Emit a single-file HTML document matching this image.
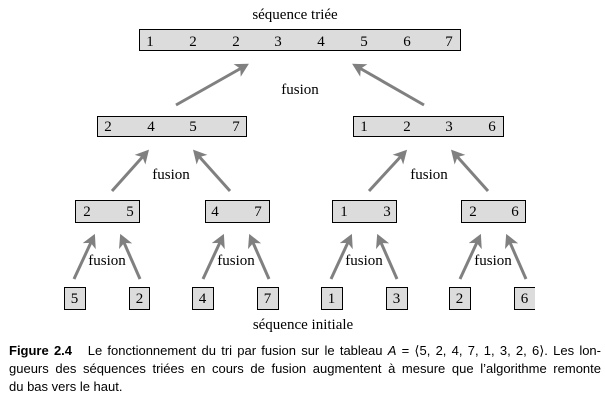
<!DOCTYPE html>
<html><head><meta charset="utf-8"><style>
body{margin:0;background:#fff;width:605px;height:412px;overflow:hidden;position:relative}
svg{position:absolute;left:0;top:0}
.cap{position:absolute;left:9px;top:342px;width:592px;font-family:"Liberation Sans",sans-serif;font-size:13px;line-height:18px;color:#000;white-space:nowrap}
.cap div{text-align:justify;text-align-last:justify}
.cap div.l{text-align-last:left}
</style></head><body>
<svg width="605" height="412" font-family="Liberation Serif, serif" font-size="15">
<defs><marker id="a" markerWidth="6" markerHeight="6" refX="3" refY="3" orient="auto" markerUnits="strokeWidth"><path d="M0,0.6 L4.5,3 L0,5.4 L1.2,3 Z" fill="#808080"/></marker></defs>
<g fill="#dcdcdc" stroke="#000" stroke-width="1">
<rect x="139.5" y="29.5" width="321" height="21"/>
<rect x="97.5" y="116.5" width="149" height="20"/>
<rect x="353.5" y="116.5" width="150" height="20"/>
<rect x="75.5" y="200.5" width="64" height="22"/>
<rect x="205.5" y="200.5" width="64" height="22"/>
<rect x="332.5" y="200.5" width="64" height="22"/>
<rect x="461.5" y="200.5" width="64" height="22"/>
<rect x="64.5" y="287.5" width="21" height="22"/>
<rect x="129.5" y="287.5" width="20" height="22"/>
<rect x="192.5" y="287.5" width="21" height="22"/>
<rect x="257.5" y="287.5" width="21" height="22"/>
<rect x="321.5" y="287.5" width="21" height="22"/>
<rect x="386.5" y="287.5" width="21" height="22"/>
<rect x="449.5" y="287.5" width="21" height="22"/>
<path d="M535,287.5 H514.5 V309.5 H535"/>
</g>
<g stroke="#808080" stroke-width="3" marker-end="url(#a)">
<line x1="176" y1="105" x2="245" y2="66"/>
<line x1="424" y1="105" x2="356" y2="66"/>
<line x1="112" y1="191" x2="146" y2="153"/>
<line x1="230" y1="191" x2="196" y2="153"/>
<line x1="369" y1="191" x2="404" y2="153"/>
<line x1="488" y1="191" x2="454" y2="153"/>
<line x1="74" y1="279" x2="93" y2="238"/><line x1="140" y1="279" x2="122" y2="238"/>
<line x1="203" y1="279" x2="222" y2="238"/><line x1="269" y1="279" x2="251" y2="238"/>
<line x1="331" y1="279" x2="350" y2="238"/><line x1="397" y1="279" x2="379" y2="238"/>
<line x1="460" y1="279" x2="479" y2="238"/><line x1="526" y1="279" x2="508" y2="238"/>
</g>
<g text-anchor="middle">
<text x="295" y="19">séquence triée</text>
<text x="150" y="46">1</text><text x="193" y="46">2</text><text x="236" y="46">2</text><text x="278" y="46">3</text><text x="321" y="46">4</text><text x="364" y="46">5</text><text x="407" y="46">6</text><text x="449" y="46">7</text>
<text x="300" y="94">fusion</text>
<text x="108" y="131">2</text><text x="151" y="131">4</text><text x="193" y="131">5</text><text x="236" y="131">7</text>
<text x="364" y="131">1</text><text x="407" y="131">2</text><text x="449" y="131">3</text><text x="492" y="131">6</text>
<text x="171" y="179">fusion</text><text x="429" y="179">fusion</text>
<text x="87" y="216">2</text><text x="130" y="216">5</text>
<text x="215" y="216">4</text><text x="258" y="216">7</text>
<text x="344" y="216">1</text><text x="387" y="216">3</text>
<text x="473" y="216">2</text><text x="515" y="216">6</text>
<text x="107" y="265">fusion</text><text x="236" y="265">fusion</text><text x="364" y="265">fusion</text><text x="493" y="265">fusion</text>
<text x="74.5" y="303">5</text><text x="139.5" y="303">2</text><text x="202.5" y="303">4</text><text x="267.5" y="303">7</text>
<text x="331.5" y="303">1</text><text x="396.5" y="303">3</text><text x="459.5" y="303">2</text><text x="524.5" y="303">6</text>
<text x="303" y="329">séquence initiale</text>
</g>
</svg>
<div class="cap">
<div><b>Figure 2.4</b>&nbsp;&nbsp; Le fonctionnement du tri par fusion sur le tableau <i>A</i> = ⟨5, 2, 4, 7, 1, 3, 2, 6⟩. Les lon-</div>
<div>gueurs des séquences triées en cours de fusion augmentent à mesure que l’algorithme remonte</div>
<div class="l">du bas vers le haut.</div>
</div>
</body></html>
